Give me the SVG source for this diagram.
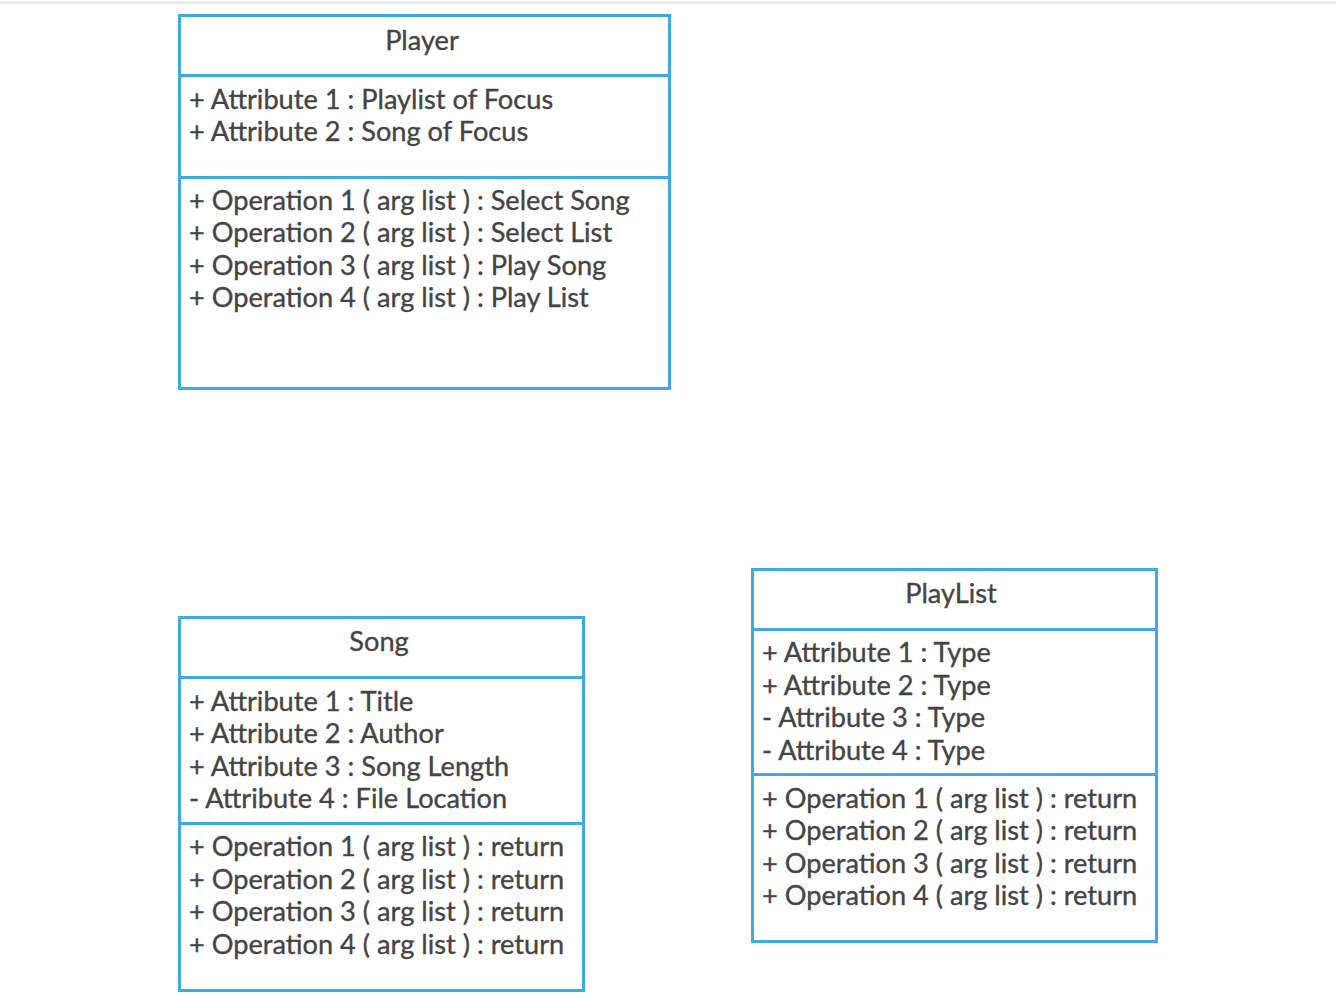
<svg xmlns="http://www.w3.org/2000/svg" width="1336" height="998" viewBox="0 0 1336 998">
  <style>
    .box { fill: #ffffff; stroke: #3fa9e1; stroke-width: 3; }
    .div { stroke: #3fa9e1; stroke-width: 3; }
    text { font-family: Lato, "Open Sans", sans-serif; font-size: 27.2px; fill: #444444; stroke: #444444; stroke-width: 0.35; }
    .title { text-anchor: middle; }
  </style>
  <rect width="1336" height="998" fill="#ffffff"/>
  <line x1="0" y1="2.5" x2="1336" y2="2.5" stroke="#e4e4e4" stroke-width="2"/>

  <g id="player">
    <rect class="box" x="179.5" y="15.5" width="490" height="373"/>
    <line class="div" x1="179.5" y1="75.5" x2="669.5" y2="75.5"/>
    <line class="div" x1="179.5" y1="177.5" x2="669.5" y2="177.5"/>
    <text class="title" x="422" y="50">Player</text>
    <text x="189" y="109">+ Attribute 1 : Playlist of Focus</text>
    <text x="189" y="141">+ Attribute 2 : Song of Focus</text>
    <text x="189" y="210">+ Operation 1 ( arg list ) : Select Song</text>
    <text x="189" y="242">+ Operation 2 ( arg list ) : Select List</text>
    <text x="189" y="275">+ Operation 3 ( arg list ) : Play Song</text>
    <text x="189" y="307">+ Operation 4 ( arg list ) : Play List</text>
  </g>

  <g id="song">
    <rect class="box" x="179.5" y="617.5" width="404" height="373"/>
    <line class="div" x1="179.5" y1="677.5" x2="583.5" y2="677.5"/>
    <line class="div" x1="179.5" y1="823.5" x2="583.5" y2="823.5"/>
    <text class="title" x="379" y="651">Song</text>
    <text x="189" y="711">+ Attribute 1 : Title</text>
    <text x="189" y="743">+ Attribute 2 : Author</text>
    <text x="189" y="776">+ Attribute 3 : Song Length</text>
    <text x="189" y="808">- Attribute 4 : File Location</text>
    <text x="189" y="856">+ Operation 1 ( arg list ) : return</text>
    <text x="189" y="889">+ Operation 2 ( arg list ) : return</text>
    <text x="189" y="921">+ Operation 3 ( arg list ) : return</text>
    <text x="189" y="954">+ Operation 4 ( arg list ) : return</text>
  </g>

  <g id="playlist">
    <rect class="box" x="752.5" y="569.5" width="404" height="372"/>
    <line class="div" x1="752.5" y1="629.5" x2="1156.5" y2="629.5"/>
    <line class="div" x1="752.5" y1="774.5" x2="1156.5" y2="774.5"/>
    <text class="title" x="951" y="603">PlayList</text>
    <text x="762" y="662">+ Attribute 1 : Type</text>
    <text x="762" y="695">+ Attribute 2 : Type</text>
    <text x="762" y="727">- Attribute 3 : Type</text>
    <text x="762" y="760">- Attribute 4 : Type</text>
    <text x="762" y="808">+ Operation 1 ( arg list ) : return</text>
    <text x="762" y="840">+ Operation 2 ( arg list ) : return</text>
    <text x="762" y="873">+ Operation 3 ( arg list ) : return</text>
    <text x="762" y="905">+ Operation 4 ( arg list ) : return</text>
  </g>

  <g id="connectors"></g>
</svg>
